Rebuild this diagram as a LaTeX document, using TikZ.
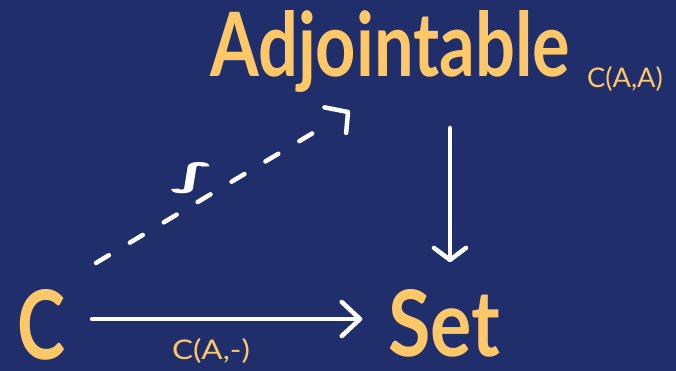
\documentclass[tikz,border=0pt]{standalone}
\usepackage{fontspec}
\setmainfont{Lato}
\newfontfamily\dejavu{DejaVu Sans}
\usetikzlibrary{calc}
\definecolor{bg}{RGB}{32,47,108}
\definecolor{ink}{RGB}{254,199,104}
\begin{document}
\begin{tikzpicture}[x=1pt,y=1pt,
  lbl/.style={inner sep=0pt, outer sep=0pt, text=ink, anchor=base west},
  arr/.style={draw=white, line width=4.5pt, line cap=round, line join=round},
  dashline/.style={dash pattern=on 15pt off 24.5pt}
]
\fill[bg] (0,0) rectangle (676,371);
\useasboundingbox (0,0) rectangle (676,371);

\node[lbl] (Adj) at (210,294) {\resizebox{360pt}{66pt}{\bfseries Adjointable}};
\node[lbl] (sub) at (587,283) {\resizebox{76pt}{21pt}{C(A,A)}};
\node[lbl] (C) at (17,11) {\resizebox{48pt}{70pt}{\bfseries C}};
\node[lbl] (Set) at (388,14) {\resizebox{112pt}{67pt}{\bfseries Set}};
\node[lbl] (hom) at (172,11) {\resizebox{78pt}{21pt}{C(A,-)}};

\coordinate (hy) at (0,52);
\coordinate (vx) at (450,0);

% horizontal arrow C -> Set
\coordinate (h1) at ($(C.east |- hy)+(27,0)$);
\coordinate (h2) at ($(Set.west |- hy)+(-28,0)$);
\draw[arr] (h1) -- (h2);
\draw[arr] ($(h2)!25pt!43:(h1)$) -- (h2) -- ($(h2)!25pt!-43:(h1)$);

% vertical arrow Adjointable -> Set
\coordinate (v1) at ($(vx |- Adj.base)+(0,-51)$);
\coordinate (v2) at ($(vx |- Set.north)+(0,30)$);
\draw[arr] (v1) -- (v2);
\draw[arr] ($(v2)!20pt!53:(v1)$) -- (v2) -- ($(v2)!20pt!-53:(v1)$);

% dashed arrow C -> Adjointable
\coordinate (d1) at ($(C.north east)+(31,27)$);
\coordinate (d2) at ($(Adj.base west)+(138,-35)$);
\draw[arr,dashline] (d1) -- ($(d1)!0.87!(d2)$);
\draw[arr] ($(d2)!24pt!-42:(d1)$) -- (d2) -- ($(d2)!21pt!54:(d1)$);

\node[text=white, inner sep=0pt] (lab) at (193,193)
  {\resizebox{44pt}{24pt}{\dejavu\bfseries ∫}};
\end{tikzpicture}
\end{document}
